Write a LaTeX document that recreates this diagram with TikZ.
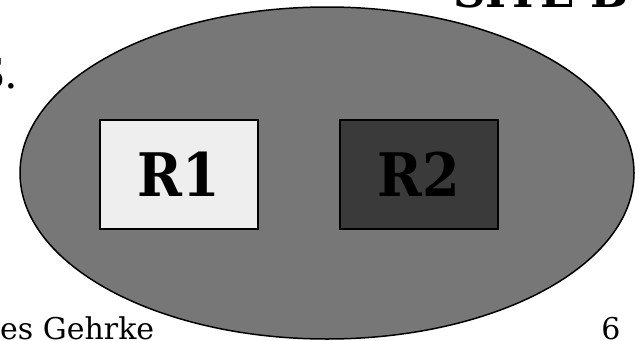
\documentclass[tikz,border=0pt]{standalone}
\usepackage{fontspec}
\setmainfont{DejaVu Serif}
\newfontfamily\roomfont{DejaVu Serif Condensed}
\usetikzlibrary{shapes.geometric}
\definecolor{sitegray}{HTML}{777777}
\definecolor{lightroom}{HTML}{EEEEEE}
\definecolor{darkroom}{HTML}{3A3A3A}
\begin{document}
\begin{tikzpicture}[x=1pt,y=-1pt,
	site/.style={draw,ellipse,fill=sitegray,line width=1.5pt,inner sep=0pt,minimum width=614pt,minimum height=332pt},
	room/.style={draw,line width=2pt,inner sep=0pt,minimum width=158pt,minimum height=109pt,font=\roomfont\bfseries\fontsize{60}{60}\selectfont}]
	\useasboundingbox (0,0) rectangle (639,340);
	\clip (0,0) rectangle (639,340);
	\node[site] (siteb) at (327,173) {};
	\node[room,fill=lightroom] (r1) at (179,174.5) {R1};
	\node[room,fill=darkroom] (r2) at (419,174.5) {R2};
	\node[anchor=base west,inner sep=0pt,font=\bfseries\fontsize{45}{45}\selectfont] (title) at (453,8) {SITE B};
	\node[anchor=base east,inner sep=0pt,font=\fontsize{43}{43}\selectfont] (bullet) at (18,88) {S.};
	\node[anchor=base west,inner sep=0pt,font=\fontsize{30}{30}\selectfont] (author) at (0,339) {es Gehrke};
	\node[anchor=base,inner sep=0pt,font=\fontsize{30}{30}\selectfont] (page) at (611,339) {6};
\end{tikzpicture}
\end{document}
